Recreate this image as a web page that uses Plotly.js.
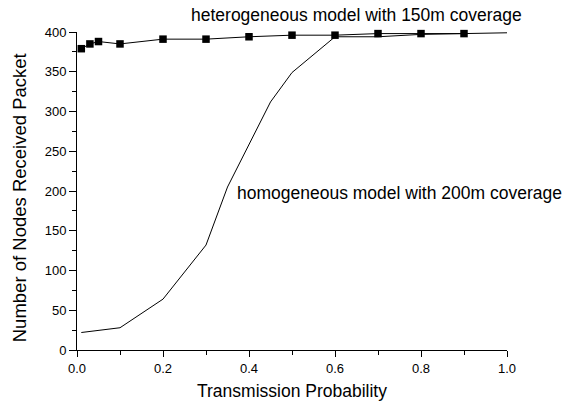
<!DOCTYPE html>
<html>
<head>
<meta charset="utf-8">
<script src="https://cdn.plot.ly/plotly-3.0.1.min.js"></script>
<style>html,body{margin:0;padding:0;background:#fff;}#chart{width:569px;height:405px;}</style>
</head>
<body>
<div id="chart"></div>
<script>
const heteroX = [0.01, 0.03, 0.05, 0.1, 0.2, 0.3, 0.4, 0.5, 0.6, 0.7, 0.8, 0.9];
const heteroY = [379, 385, 388, 385, 391, 391, 394, 396, 396, 398, 398, 398];
const homoX = [0.01, 0.1, 0.2, 0.3, 0.35, 0.4, 0.45, 0.5, 0.6, 0.7, 0.8, 0.9, 1.0];
const homoY = [22, 28, 64, 132, 205, 259, 312, 349, 394, 394, 397, 398, 399];
const xTicks = [0, 0.2, 0.4, 0.6, 0.8, 1.0];
const xTickText = ['0.0', '0.2', '0.4', '0.6', '0.8', '1.0'];
const yTicks = [0, 50, 100, 150, 200, 250, 300, 350, 400];

const font = {family: 'Liberation Sans, Arial, sans-serif', color: '#000'};
const traces = [
  {x: homoX, y: homoY, mode: 'lines', line: {color: '#000', width: 1}, cliponaxis: false, hoverinfo: 'skip'},
  {x: heteroX, y: heteroY, mode: 'lines+markers', line: {color: '#000', width: 1},
   marker: {symbol: 'square', size: 7.5, color: '#000'}, cliponaxis: false}
];
const layout = {
  width: 569, height: 405,
  margin: {l: 77, r: 62, t: 32, b: 55},
  paper_bgcolor: '#fff', plot_bgcolor: '#fff',
  showlegend: false,
  font: Object.assign({size: 13}, font),
  xaxis: {
    range: [0, 1], tickvals: xTicks, ticktext: xTickText,
    showgrid: false, zeroline: false, showline: true, linecolor: '#000', linewidth: 1,
    ticks: 'outside', ticklen: 6, tickcolor: '#000', tickwidth: 1,
    minor: {dtick: 0.1, ticks: 'outside', ticklen: 4, tickcolor: '#000', showgrid: false},
    tickfont: Object.assign({size: 13}, font),
    title: {text: 'Transmission Probability', font: Object.assign({size: 17.5}, font), standoff: 10}
  },
  yaxis: {
    range: [0, 400], tickvals: yTicks,
    showgrid: false, zeroline: false, showline: true, linecolor: '#000', linewidth: 1,
    ticks: 'outside', ticklen: 7, tickcolor: '#000', tickwidth: 1,
    minor: {dtick: 25, ticks: 'outside', ticklen: 4, tickcolor: '#000', showgrid: false},
    tickfont: Object.assign({size: 13}, font)
  },
  annotations: [
    {text: 'Number of Nodes Received Packet', xref: 'paper', yref: 'paper', textangle: -90,
     x: -0.132, y: 0.478, xanchor: 'center', yanchor: 'middle', showarrow: false,
     font: Object.assign({size: 18.5}, font)},
    {text: 'heterogeneous model with 150m coverage', xref: 'paper', yref: 'paper',
     x: 0.261, y: 1.0, xanchor: 'left', yanchor: 'bottom', yshift: 5, showarrow: false,
     font: Object.assign({size: 17.5}, font)},
    {text: 'homogeneous model with 200m coverage', xref: 'x', yref: 'y',
     x: 0.368, y: 197, xanchor: 'left', yanchor: 'middle', showarrow: false,
     font: Object.assign({size: 17.5}, font)}
  ]
};
Plotly.newPlot('chart', traces, layout, {staticPlot: true});
</script>
</body>
</html>
